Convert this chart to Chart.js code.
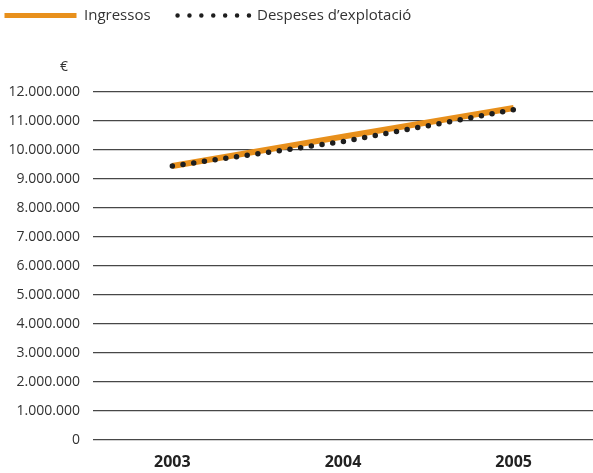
<!DOCTYPE html>
<html><head><meta charset="utf-8">
<script src="https://cdn.jsdelivr.net/npm/chart.js@4.4.1/dist/chart.umd.min.js"></script>
<style>html,body{margin:0;padding:0;background:#fff;overflow:hidden}#wrap{width:593px;height:473px;position:relative}</style>
</head><body><div id="wrap"><canvas id="c" width="593" height="473"></canvas></div>
<script>
const years = [2003, 2004, 2005];
const ingressos = [9450000, 10460000, 11450000];
const despeses = [9450000, 10290000, 11390000];
const yTicks = [0, 1000000, 2000000, 3000000, 4000000, 5000000, 6000000, 7000000, 8000000, 9000000, 10000000, 11000000, 12000000];
const seriesNames = ['Ingressos', 'Despeses d\u2019explotació'];
const unitLabel = '€';

const ORANGE = '#e8901c';
const DOTS = '#1e1e1e';
const TEXT = '#333333';

function fmt(v) { return String(v).replace(/\B(?=(\d{3})+(?!\d))/g, '.'); }

Chart.defaults.font.family = '"Open Sans", sans-serif';

const legendSpacer = {
  id: 'legendSpacer',
  beforeInit(chart) {
    const lg = chart.legend;
    if (!lg) return;
    const orig = lg.fit;
    lg.fit = function () { orig.call(this); this.height += 30; };
  }
};

const unitPlugin = {
  id: 'unitPlugin',
  afterDraw(chart) {
    const y = chart.scales.y;
    const ctx = chart.ctx;
    ctx.save();
    ctx.font = '14px "Open Sans", sans-serif';
    ctx.fillStyle = TEXT;
    ctx.textAlign = 'center';
    ctx.textBaseline = 'middle';
    ctx.fillText(unitLabel, y.right - 29, y.getPixelForValue(yTicks[yTicks.length - 1]) - 25);
    ctx.restore();
  }
};

new Chart(document.getElementById('c'), {
  type: 'line',
  data: {
    datasets: [
      {
        label: seriesNames[0],
        data: years.map((x, i) => ({ x, y: ingressos[i] })),
        borderColor: ORANGE,
        backgroundColor: ORANGE,
        borderWidth: 6,
        borderCapStyle: 'butt',
        pointRadius: 0,
        tension: 0,
        order: 1
      },
      {
        label: seriesNames[1],
        data: years.map((x, i) => ({ x, y: despeses[i] })),
        borderColor: DOTS,
        backgroundColor: DOTS,
        borderWidth: 5.5,
        borderDash: [0, 10.8],
        borderCapStyle: 'round',
        pointRadius: 0,
        tension: 0,
        order: 0
      }
    ]
  },
  options: {
    responsive: false,
    animation: false,
    devicePixelRatio: 1,
    layout: { padding: { top: -19, left: -22.5, right: 0, bottom: 0 } },
    plugins: {
      tooltip: { enabled: false },
      legend: {
        position: 'top',
        align: 'start',
        labels: {
          usePointStyle: true,
          pointStyleWidth: 72,
          padding: 27,
          color: TEXT,
          font: { size: 15 },
          generateLabels(chart) {
            return chart.data.datasets.map((ds, i) => ({
              text: ds.label,
              strokeStyle: ds.borderColor,
              fillStyle: ds.borderColor,
              fontColor: TEXT,
              lineWidth: i === 0 ? 5 : 4.5,
              lineDash: i === 0 ? [] : [0, 11.9],
              lineCap: i === 0 ? 'butt' : 'round',
              pointStyle: 'line',
              hidden: false,
              datasetIndex: i
            }));
          }
        }
      }
    },
    scales: {
      x: {
        type: 'linear',
        min: 2002.535,
        max: 2005.465,
        afterBuildTicks(axis) { axis.ticks = years.map(v => ({ value: v })); },
        afterFit(axis) { axis.height = 33; },
        grid: { display: false, drawTicks: false },
        border: { display: false },
        ticks: {
          padding: 13,
          color: '#222',
          font: { size: 16, weight: 'bold' },
          callback: v => String(v),
          maxRotation: 0,
          autoSkip: false
        }
      },
      y: {
        min: 0,
        max: 13000000,
        afterBuildTicks(axis) { axis.ticks = yTicks.map(v => ({ value: v })); },
        afterFit(axis) { axis.width = 115.5; },
        grid: { color: '#474747', lineWidth: 1.3, drawTicks: false },
        border: { display: false },
        ticks: {
          padding: 13,
          color: TEXT,
          font: { size: 14 },
          callback: v => fmt(v)
        }
      }
    }
  },
  plugins: [legendSpacer, unitPlugin]
});
</script></body></html>
